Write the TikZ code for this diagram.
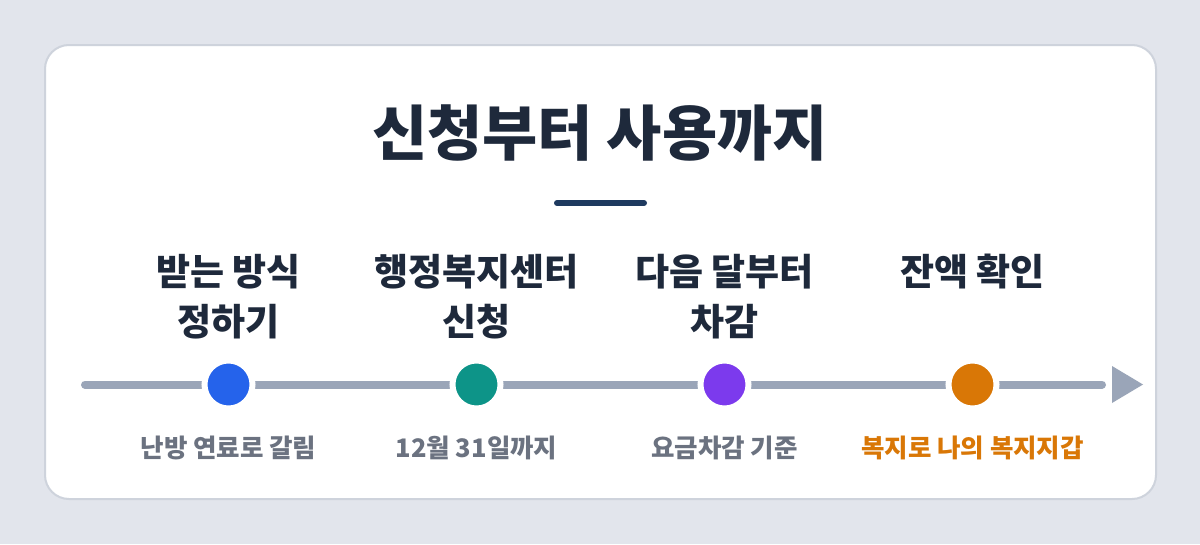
\documentclass[tikz,border=0pt]{standalone}
\usepackage{fontspec}
\setmainfont{Noto Sans CJK KR}
\usetikzlibrary{positioning}

\definecolor{pagebg}{HTML}{E2E5EC}
\definecolor{cardline}{HTML}{CED3DC}
\definecolor{titleink}{HTML}{1E293B}
\definecolor{barink}{HTML}{1E3A5F}
\definecolor{trackgray}{HTML}{9AA5B8}
\definecolor{notegray}{HTML}{6B7280}
\definecolor{dotblue}{HTML}{2563EB}
\definecolor{dotteal}{HTML}{0D9488}
\definecolor{dotpurple}{HTML}{7C3AED}
\definecolor{dotorange}{HTML}{D97706}

\tikzset{
  stagedot/.style={shape=circle,draw=white,line width=6pt,minimum size=48pt,inner sep=0pt},
  stagetitle/.style={text=titleink,align=center,font=\bfseries\fontsize{37}{50}\selectfont},
  stagenote/.style={text=notegray,font=\bfseries\fontsize{25.5}{30}\selectfont}
}

\begin{document}
\begin{tikzpicture}[x=1pt,y=-1pt]
            \useasboundingbox (0,0) rectangle (1200,544);
            \fill[pagebg] (0,0) rectangle (1200,544);
            \draw[cardline,fill=white,line width=2pt,rounded corners=24pt] (45,45) rectangle (1156,499);

            \node[text=titleink,font=\bfseries\fontsize{60}{66}\selectfont] (title) at (600,133) {신청부터 사용까지};
            \coordinate (barL) at (557,203);
            \coordinate (barR) at (644,203);
            \draw[barink,line width=6pt,line cap=round] (barL) -- (barR);

            \coordinate (trackL) at (85,384.5);
            \coordinate (trackR) at (1102,384.5);
            \coordinate (tip) at (1143,384.5);
            \draw[trackgray,line width=8pt,line cap=round] (trackL) -- (trackR);
            \fill[trackgray] (tip) -- ++(-31,-18.5) -- ++(0,37) -- cycle;

            \node[stagedot,fill=dotblue] (choose) at (228.5,384.5) {};
            \node[stagedot,fill=dotteal] (apply) at (476.5,384.5) {};
            \node[stagedot,fill=dotpurple] (deduct) at (724.5,384.5) {};
            \node[stagedot,fill=dotorange] (check) at (972.5,384.5) {};

            \node[stagetitle] (chooseT) at (228.5,297) {받는 방식\\정하기};
            \node[stagetitle] (applyT) at (476.5,297) {행정복지센터\\신청};
            \node[stagetitle] (deductT) at (724.5,297) {다음 달부터\\차감};
            \node[stagetitle] (checkT) at (972.5,272) {잔액 확인};

            \node[stagenote] (chooseN) at (228.5,447.5) {난방 연료로 갈림};
            \node[stagenote] (applyN) at (476.5,447.5) {12월 31일까지};
            \node[stagenote] (deductN) at (724.5,447.5) {요금차감 기준};
            \node[stagenote,text=dotorange] (checkN) at (972.5,447.5) {복지로 나의 복지지갑};
        \end{tikzpicture}
\end{document}
